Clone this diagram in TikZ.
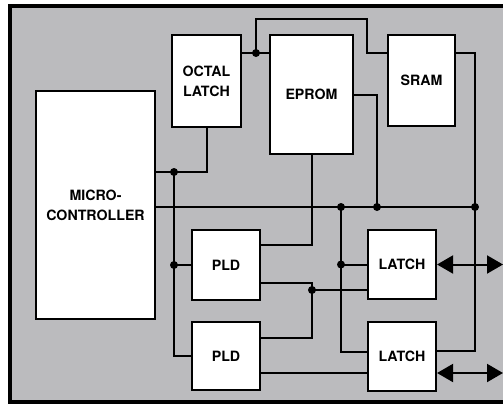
\documentclass[tikz,border=0pt]{standalone}
\usepackage{fontspec}
\setmainfont{TeX Gyre Heros}
\usetikzlibrary{arrows.meta,calc,positioning}
\definecolor{boardgray}{RGB}{187,187,190}

\begin{document}
\begin{tikzpicture}[x=1pt,y=-1pt,
  blk/.style={draw,line width=2.1pt,fill=white,align=center,inner sep=0pt,
    font=\fontsize{14.2}{20}\selectfont\bfseries},
  wire/.style={line width=2pt},
  dot/.style={circle,fill=black,inner sep=0pt,minimum size=8pt},
  bidir/.style={wire,{Triangle[length=16pt,width=18pt]}-{Triangle[length=16pt,width=18pt]}}]
\useasboundingbox (0,0) rectangle (503,407);
\clip (0,0) rectangle (503,407);
\draw [line width=3.2pt,fill=boardgray] (10,6) rectangle (515,402);

% blocks
\node[blk,minimum width=119pt,minimum height=228pt] (mcu) at (95.5,205) {MICRO-\\CONTROLLER};
\node[blk,minimum width=69pt,minimum height=92pt] (octal) at (206.5,81) {OCTAL\\LATCH};
\node[blk,minimum width=83pt,minimum height=119pt] (eprom) at (311.5,94.5) {EPROM};
\node[blk,minimum width=67pt,minimum height=91pt] (sram) at (421.5,80.5) {SRAM};
\node[blk,minimum width=68pt,minimum height=70pt] (pldA) at (226,265) {PLD};
\node[blk,minimum width=68pt,minimum height=68pt] (pldB) at (226,356) {PLD};
\node[blk,minimum width=68pt,minimum height=69pt] (latchA) at (402,264.5) {LATCH};
\node[blk,minimum width=68pt,minimum height=69pt] (latchB) at (402,356.5) {LATCH};

% junctions
\coordinate (jmcu) at (174,172);
\coordinate (jpld) at (jmcu |- pldA.west);
\coordinate (jtop) at (256,53);
\coordinate (ttop) at (367,19);
\coordinate (jbusA) at (341,207);
\coordinate (jbusB) at (377,207);
\coordinate (jbusC) at (475,207);
\coordinate (jlat) at (jbusA |- latchA.west);
\coordinate (jmid) at (312,290);
\coordinate (outA) at (503,0 |- latchA.east);
\coordinate (outB) at ($(latchB.east)+(0,16.5)$);
\coordinate (outB) at (503,0 |- outB);

% wires
\draw[wire] (mcu.east |- jmcu) -- (octal.south |- jmcu) -- (octal.south);
\draw[wire] (jmcu) |- (pldB.west);
\draw[wire] (jpld) -- (pldA.west);
\draw[wire] (mcu.east |- jbusA) -- (jbusC);
\draw[wire] (octal.east |- jtop) -- (eprom.west |- jtop);
\draw[wire] (jtop) |- (ttop) |- (sram.west |- jtop);
\draw[wire] (eprom.east) -| (jbusB);
\draw[wire] (sram.east |- jtop) -| (jbusC);
\draw[wire] (jbusC) |- ($(latchB.east)+(0,-5.5)$);
\draw[wire] (eprom.south) |- ($(pldA.east)+(0,-20)$);
\draw[wire] (jbusA) |- ($(latchB.west)+(0,-4.5)$);
\draw[wire] (jlat) -- (latchA.west);
\draw[wire] ($(pldA.east)+(0,18)$) -| (jmid);
\draw[wire] (jmid) -- (latchA.west |- jmid);
\draw[wire] (jmid) |- ($(pldB.east)+(0,-18)$);
\draw[wire] ($(pldB.east)+(0,17)$) -- ($(latchB.west)+(0,16.5)$);
\draw[bidir] (latchA.east) -- (outA);
\draw[bidir] ($(latchB.east)+(0,16.5)$) -- (outB);

\foreach \j in {jmcu,jpld,jtop,jbusA,jbusB,jbusC,jlat,jmid}
  \node[dot] at (\j) {};
\end{tikzpicture}
\end{document}
